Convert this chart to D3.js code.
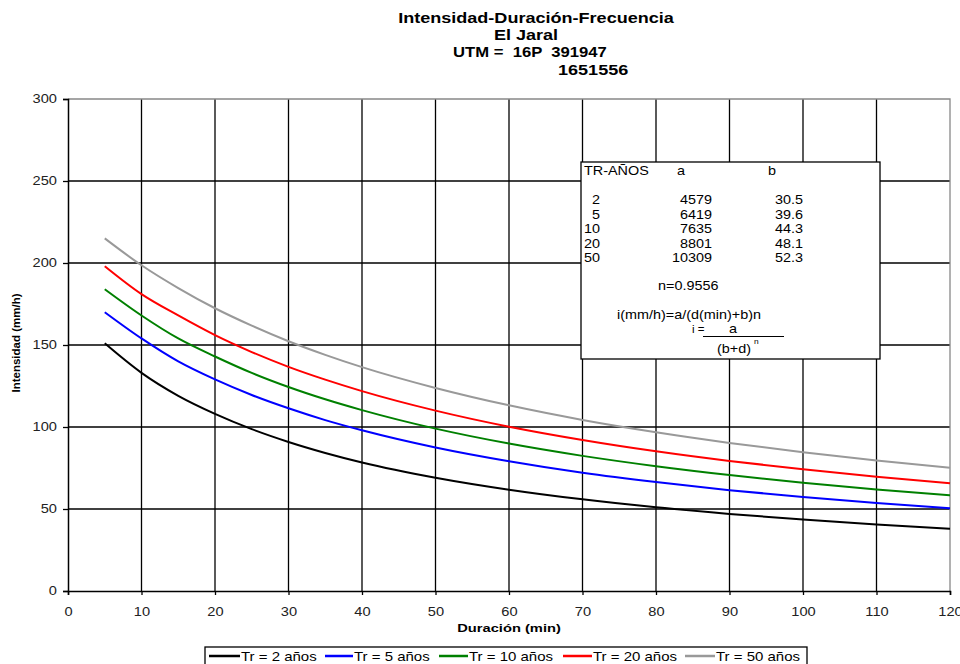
<!DOCTYPE html>
<html>
<head>
<meta charset="utf-8">
<script src="https://cdn.jsdelivr.net/npm/d3@7"></script>
<style>
  body { margin: 0; background: #fff; }
  svg { font-family: "Liberation Sans", Arial, sans-serif; }
</style>
</head>
<body>
<div id="chart"></div>
<script>
// Data
const durations = [5, 10, 15, 20, 25, 30, 35, 40, 50, 60, 70, 80, 90, 100, 110, 120];
const tr2  = [151, 133, 119, 108, 98.7, 90.9, 84.2, 78.4, 69.1, 61.8, 55.9, 51.0, 47.0, 43.6, 40.6, 38.0];
const tr5  = [170, 154, 140, 129, 119.5, 111.4, 104.2, 98.0, 87.5, 79.1, 72.1, 66.4, 61.5, 57.3, 53.6, 50.4];
const tr10 = [184, 168, 154, 143, 133, 124.4, 116.9, 110.3, 99.0, 89.9, 82.4, 76.1, 70.7, 66.0, 61.9, 58.3];
const tr20 = [198, 181, 168, 156, 145.7, 136.7, 128.9, 121.9, 110.0, 100.2, 92.1, 85.2, 79.3, 74.2, 69.7, 65.7];
const tr50 = [215, 198.6, 184.7, 172.4, 161.8, 152.3, 144.0, 136.5, 123.8, 113.2, 104.3, 96.8, 90.3, 84.6, 79.6, 75.2];
const seriesNames = ["Tr = 2 años", "Tr = 5 años", "Tr = 10 años", "Tr = 20 años", "Tr = 50 años"];
const seriesColors = ["#000000", "#0000ff", "#008000", "#ff0000", "#999999"];
const xTicks = [0, 10, 20, 30, 40, 50, 60, 70, 80, 90, 100, 110, 120];
const yTicks = [0, 50, 100, 150, 200, 250, 300];

// table in the plot
const tableTr = ["2", "5", "10", "20", "50"];
const tableA = ["4579", "6419", "7635", "8801", "10309"];
const tableB = ["30.5", "39.6", "44.3", "48.1", "52.3"];

const allSeries = [tr2, tr5, tr10, tr20, tr50];

const margin = { top: 99, right: 10, bottom: 73, left: 68 };
const width = 960 - margin.left - margin.right;
const height = 664 - margin.top - margin.bottom;

const root = d3.select("#chart").append("svg")
    .attr("width", 960)
    .attr("height", 664);

// the original picture is stretched sideways, so text gets a horizontal scale
function stext(parent, x, y, txt, size, sx, opts = {}) {
    return parent.append("text")
        .attr("transform", `translate(${x},${y}) scale(${sx},1)`)
        .attr("text-anchor", opts.anchor || "start")
        .attr("xml:space", "preserve")
        .style("white-space", "pre")
        .style("font-size", size + "px")
        .style("font-weight", opts.bold ? "bold" : "normal")
        .attr("fill", opts.fill || "#000")
        .text(txt);
}

// Title
stext(root, 536, 23, "Intensidad-Duración-Frecuencia", 14, 1.29, { anchor: "middle", bold: true });
stext(root, 526, 40, "El Jaral", 14, 1.29, { anchor: "middle", bold: true });
stext(root, 453, 57, "UTM =  16P  391947", 14, 1.19, { bold: true });
stext(root, 558, 75, "1651556", 14, 1.29, { bold: true });

const svg = root.append("g")
    .attr("transform", `translate(${margin.left},${margin.top})`);

const x = d3.scaleLinear().domain([0, 120]).range([0, width]);
const y = d3.scaleLinear().domain([0, 300]).range([height, 0]);

// Grid
svg.append("g")
    .selectAll("line")
    .data(xTicks.filter(d => d > 0 && d < 120))
    .enter().append("line")
    .attr("x1", d => x(d)).attr("x2", d => x(d))
    .attr("y1", 0).attr("y2", height)
    .attr("stroke", "#000")
    .attr("stroke-width", 1.3);

svg.append("g")
    .selectAll("line")
    .data(yTicks.filter(d => d > 0 && d < 300))
    .enter().append("line")
    .attr("x1", 0).attr("x2", width)
    .attr("y1", d => y(d)).attr("y2", d => y(d))
    .attr("stroke", "#000")
    .attr("stroke-width", 1.3);

// Top and right border (grey)
svg.append("path")
    .attr("d", `M0,0H${width}V${height}`)
    .attr("fill", "none")
    .attr("stroke", "#888")
    .attr("stroke-width", 1.3);

// Axes
const xAxis = svg.append("g")
    .attr("transform", `translate(0,${height})`)
    .call(d3.axisBottom(x).tickValues(xTicks).tickSize(4).tickPadding(12));
const yAxis = svg.append("g")
    .call(d3.axisLeft(y).tickValues(yTicks).tickSize(5).tickPadding(5));

[xAxis, yAxis].forEach(ax => {
    ax.select(".domain").attr("stroke", "#000").attr("stroke-width", 1.5);
    ax.selectAll(".tick line").attr("stroke", "#000").attr("stroke-width", 1.3);
    ax.selectAll("text")
        .style("font-size", "12px")
        .style("font-family", "'Liberation Sans', Arial, sans-serif")
        .attr("fill", "#222")
        .attr("transform", "scale(1.22,1)");
});
yAxis.selectAll("text").attr("x", -11 / 1.22);

// Curves
const line = d3.line()
    .x((d, i) => x(durations[i]))
    .y(d => y(d))
    .curve(d3.curveMonotoneX);

allSeries.forEach((s, k) => {
    svg.append("path")
        .datum(s)
        .attr("fill", "none")
        .attr("stroke", seriesColors[k])
        .attr("stroke-width", 2)
        .attr("d", line);
});

// Axis titles
stext(root, 509, 632, "Duración (min)", 11.5, 1.28, { anchor: "middle", bold: true });

root.append("text")
    .attr("transform", "translate(20,343) rotate(-90)")
    .attr("text-anchor", "middle")
    .style("font-size", "11.5px")
    .style("font-weight", "bold")
    .text("Intensidad (mm/h)");

// Parameter table box
const tbl = root.append("g").attr("transform", "translate(581,162)");
tbl.append("rect")
    .attr("width", 299)
    .attr("height", 197)
    .attr("fill", "#fff")
    .attr("stroke", "#000")
    .attr("stroke-width", 1.3);

const tf = 12, tsx = 1.2;
stext(tbl, 3, 13, "TR-AÑOS", tf, tsx);
stext(tbl, 96, 13, "a", tf, tsx);
stext(tbl, 187, 13, "b", tf, tsx);

tableTr.forEach((t, i) => {
    const ry = 42 + i * 14.5;
    stext(tbl, 19, ry, t, tf, tsx, { anchor: "end" });
    stext(tbl, 131, ry, tableA[i], tf, tsx, { anchor: "end" });
    stext(tbl, 222, ry, tableB[i], tf, tsx, { anchor: "end" });
});

stext(tbl, 77, 128, "n=0.9556", tf, tsx);
stext(tbl, 36, 157, "i(mm/h)=a/(d(min)+b)n", tf, tsx);
stext(tbl, 111, 171, "i =", 11, 1.05);
stext(tbl, 152, 171, "a", tf, tsx, { anchor: "middle" });
tbl.append("line")
    .attr("x1", 122).attr("x2", 203)
    .attr("y1", 174.5).attr("y2", 174.5)
    .attr("stroke", "#000").attr("stroke-width", 1);
stext(tbl, 136, 191, "(b+d)", tf, tsx);
stext(tbl, 173, 182, "n", 7, tsx);

// Legend
const lg = root.append("g").attr("transform", "translate(205,647)");
lg.append("rect")
    .attr("width", 602)
    .attr("height", 20)
    .attr("fill", "#fff")
    .attr("stroke", "#000")
    .attr("stroke-width", 1.3);

const legLineX = [4, 120, 234, 358, 480];
const legLineW = [31, 28, 29, 29, 30];
seriesNames.forEach((n, k) => {
    lg.append("line")
        .attr("x1", legLineX[k]).attr("x2", legLineX[k] + legLineW[k])
        .attr("y1", 9).attr("y2", 9)
        .attr("stroke", seriesColors[k])
        .attr("stroke-width", 2.5);
    stext(lg, legLineX[k] + legLineW[k] + 1, 13.5, n, 12.5, 1.2);
});
</script>
</body>
</html>
